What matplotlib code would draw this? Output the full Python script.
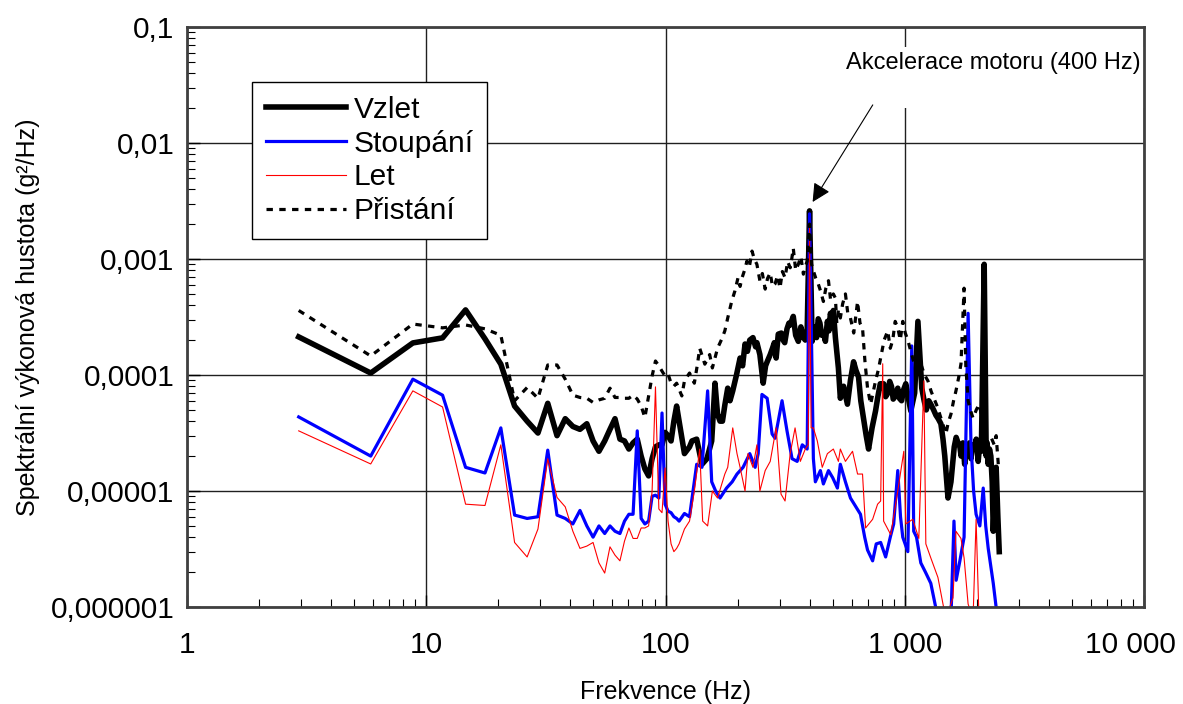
import numpy as np
import matplotlib.pyplot as plt
import matplotlib.transforms as mtransforms
from matplotlib.ticker import FixedLocator, LogLocator, NullFormatter

plt.rcParams['font.family'] = ['Liberation Sans', 'DejaVu Sans']

# nizke frekvence - spolecna osa (krok ~2.93 Hz)
f_low = [2.93, 5.86, 8.79, 11.7, 14.6, 17.6, 20.5, 23.4, 26.4, 29.3, 32.2, 35.2, 38.1,
         41.0, 43.9, 46.9, 49.8, 52.7, 55.7, 58.6, 61.5, 64.5, 67.4, 70.3, 73.2, 76.2,
         79.1, 82.0, 85.0, 87.9, 90.8, 93.8, 96.7, 99.6, 102.5, 105.5, 108.4, 111.3]

vzlet_low = [2.13e-4, 1.04e-4, 1.89e-4, 2.09e-4, 3.64e-4, 2.05e-4, 1.24e-4, 5.4e-5, 4.0e-5,
             3.16e-5, 5.7e-5, 3.0e-5, 4.2e-5, 3.6e-5, 3.4e-5, 3.8e-5, 2.7e-5, 2.2e-5, 2.7e-5,
             3.4e-5, 4.2e-5, 2.8e-5, 2.7e-5, 2.3e-5, 2.6e-5, 2.8e-5, 2.0e-5, 1.55e-5, 1.35e-5,
             1.9e-5, 2.4e-5, 2.5e-5, 2.5e-5, 3.2e-5, 3.0e-5, 2.7e-5, 4.0e-5, 5.4e-5]
stoup_low = [4.35e-5, 2.0e-5, 9.2e-5, 6.7e-5, 1.6e-5, 1.43e-5, 3.5e-5, 6.2e-6, 5.8e-6, 6.0e-6,
             2.25e-5, 6.2e-6, 5.8e-6, 5.2e-6, 6.8e-6, 5.0e-6, 4.0e-6, 5.0e-6, 4.3e-6, 5.0e-6,
             4.5e-6, 4.3e-6, 5.5e-6, 6.3e-6, 6.3e-6, 3.3e-5, 5.8e-6, 5.2e-6, 5.5e-6, 9.0e-6,
             9.2e-6, 8.7e-6, 4.7e-5, 7.7e-6, 6.7e-6, 6.5e-6, 6.0e-6, 5.8e-6]
let_low = [3.3e-5, 1.71e-5, 7.3e-5, 5.3e-5, 7.7e-6, 7.5e-6, 2.5e-5, 3.6e-6, 2.7e-6, 4.7e-6,
           1.9e-5, 8.8e-6, 7.3e-6, 4.5e-6, 3.2e-6, 3.35e-6, 3.6e-6, 2.4e-6, 1.96e-6, 3.3e-6,
           2.8e-6, 2.5e-6, 3.7e-6, 4.8e-6, 3.9e-6, 3.9e-6, 4.8e-6, 4.8e-6, 5.0e-6, 1.0e-5,
           7.9e-5, 7.0e-6, 6.5e-6, 1.58e-5, 5.5e-6, 3.5e-6, 3.0e-6, 3.2e-6]
prist_low = [3.6e-4, 1.46e-4, 2.75e-4, 2.55e-4, 2.7e-4, 2.5e-4, 2.2e-4, 6.0e-5, 7.8e-5, 6.3e-5,
             1.22e-4, 1.22e-4, 9.2e-5, 6.7e-5, 6.4e-5, 6.3e-5, 5.8e-5, 6.1e-5, 6.3e-5, 7.7e-5,
             6.4e-5, 6.4e-5, 6.3e-5, 6.3e-5, 6.7e-5, 6.2e-5, 5.4e-5, 4.3e-5, 6.6e-5, 9.8e-5,
             1.32e-4, 1.2e-4, 1.08e-4, 9.8e-5, 1.02e-4, 8.5e-5, 8.0e-5, 8.5e-5]

# vyssi frekvence - kazda rada zvlast
f_vzlet = [120, 126, 129, 135, 142, 149, 156, 161, 165, 169, 173, 177, 182, 186, 191, 198, 205,
           210, 215, 220, 225, 232, 238, 241, 248, 256, 262, 266, 274, 280, 285, 290, 296, 305,
           310, 315, 322, 328, 332, 342, 350, 359, 368, 377, 384, 391, 400, 410, 418, 423, 428,
           435, 442, 450, 458, 466, 475, 482, 489, 495, 503, 513, 528, 538, 555, 576, 593, 611,
           625, 641, 655, 672, 690, 706, 730, 755, 772, 790, 816, 832, 850, 865, 880, 895, 910,
           935, 950, 970, 990, 1010, 1040, 1060, 1100, 1135, 1178, 1205, 1230, 1260, 1285, 1320,
           1350, 1380, 1416, 1445, 1470, 1516, 1560, 1610, 1640, 1670, 1700, 1720, 1750, 1780,
           1810, 1840, 1865, 1892, 1920, 1950, 1990, 2027, 2060, 2090, 2148, 2190, 2210, 2233,
           2260, 2290, 2320, 2344, 2380, 2410, 2450, 2483]
vzlet_high = [2.1e-5, 2.4e-5, 2.7e-5, 2.8e-5, 1.7e-5, 1.9e-5, 2.7e-5, 8.5e-5, 4.6e-5, 4.0e-5,
              4.0e-5, 5.5e-5, 7.7e-5, 6.0e-5, 7.3e-5, 1.0e-4, 1.4e-4, 1.2e-4, 1.85e-4, 1.6e-4,
              2.0e-4, 2.1e-4, 1.75e-4, 1.9e-4, 1.5e-4, 8.5e-5, 1.2e-4, 1.3e-4, 1.5e-4, 1.7e-4,
              1.9e-4, 1.4e-4, 2.25e-4, 2.3e-4, 2.0e-4, 1.9e-4, 2.5e-4, 2.8e-4, 2.7e-4, 3.2e-4,
              2.2e-4, 1.95e-4, 2.6e-4, 2.1e-4, 2.0e-4, 2.4e-4, 2.6e-3, 1.95e-4, 2.5e-4, 2.6e-4,
              2.1e-4, 3.05e-4, 2.8e-4, 2.2e-4, 2.3e-4, 1.95e-4, 2.9e-4, 2.4e-4, 3.4e-4, 3.0e-4,
              3.6e-4, 2.1e-4, 1.15e-4, 6.3e-5, 8.0e-5, 5.6e-5, 9.0e-5, 1.3e-4, 1.1e-4, 9.6e-5,
              6.0e-5, 4.25e-5, 3.0e-5, 2.3e-5, 3.5e-5, 4.9e-5, 6.5e-5, 8.4e-5, 8.4e-5, 6.5e-5,
              7.0e-5, 8.8e-5, 8.0e-5, 6.2e-5, 6.5e-5, 7.7e-5, 6.3e-5, 6.0e-5, 7.5e-5, 8.4e-5,
              6.0e-5, 4.9e-5, 7.0e-5, 2.9e-4, 7.7e-5, 6.0e-5, 5.0e-5, 6.0e-5, 5.6e-5, 5.0e-5,
              4.5e-5, 4.2e-5, 3.8e-5, 2.8e-5, 2.0e-5, 8.7e-6, 1.2e-5, 2.4e-5, 2.9e-5, 2.6e-5,
              2.4e-5, 2.0e-5, 2.6e-5, 1.7e-5, 2.5e-5, 2.2e-5, 2.6e-5, 1.9e-5, 2.5e-5, 2.3e-5,
              2.8e-5, 1.8e-5, 2.6e-5, 2.2e-5, 9.0e-4, 2.0e-5, 2.6e-5, 1.7e-5, 2.3e-5, 2.0e-5,
              1.2e-5, 4.5e-6, 1.0e-5, 1.6e-5, 6.0e-6, 3.0e-6]

f_stoup = [114, 120, 126, 135, 142, 150, 156, 162, 169, 180, 190, 199, 211, 225, 237, 244, 253,
           266, 279, 287, 307, 322, 338, 355, 373, 391, 400, 415, 423, 444, 457, 480, 500, 523,
           538, 565, 593, 620, 653, 680, 699, 734, 760, 793, 832, 870, 899, 935, 960, 981, 1030,
           1070, 1090, 1120, 1167, 1220, 1285, 1349, 1450, 1560, 1606, 1640, 1700, 1770, 1840,
           1892, 1940, 1987, 2060, 2128, 2180, 2233, 2344, 2412, 2460]
stoup_high = [5.5e-6, 6.4e-6, 6.0e-6, 1.7e-5, 1.6e-5, 7.3e-5, 1.2e-5, 1.0e-5, 8.7e-6, 1.06e-5,
              1.2e-5, 1.4e-5, 1.6e-5, 2.1e-5, 1.6e-5, 2.1e-5, 6.8e-5, 6.3e-5, 3.1e-5, 2.85e-5,
              6.0e-5, 3.3e-5, 1.9e-5, 1.8e-5, 2.5e-5, 2.3e-5, 2.45e-3, 1.9e-5, 1.2e-5, 1.5e-5,
              1.15e-5, 1.5e-5, 1.3e-5, 1.06e-5, 1.7e-5, 1.2e-5, 8.7e-6, 7.5e-6, 6.3e-6, 4.0e-6,
              3.1e-6, 2.5e-6, 3.5e-6, 3.6e-6, 2.7e-6, 4.0e-6, 5.2e-6, 1.5e-5, 6.0e-6, 4.0e-6,
              3.0e-6, 1.78e-4, 4.5e-6, 4.0e-6, 2.4e-6, 2.0e-6, 1.6e-6, 9.8e-7, 7.0e-7, 8.0e-7,
              5.5e-6, 1.7e-6, 2.5e-6, 4.0e-6, 3.4e-4, 2.5e-5, 1.0e-5, 6.3e-6, 5.0e-6, 1.06e-5,
              5.0e-6, 3.2e-6, 1.6e-6, 9.8e-7, 6.0e-7]

f_let = [114, 120, 126, 132, 139, 143, 150, 157, 165, 177, 182, 191, 199, 205, 215, 221, 232,
         241, 248, 261, 274, 290, 304, 316, 332, 348, 366, 384, 395, 400, 406, 415, 431, 452,
         475, 503, 528, 538, 565, 605, 635, 666, 686, 734, 770, 793, 809, 816, 874, 935, 991,
         1010, 1080, 1145, 1202, 1225, 1285, 1376, 1445, 1486, 1591, 1637, 1718, 1770, 1840,
         1930, 1987, 2047]
let_high = [3.5e-6, 4.7e-6, 5.5e-6, 1.0e-5, 2.3e-5, 5.5e-6, 5.0e-6, 1.0e-5, 8.7e-6, 1.4e-5,
            1.6e-5, 3.5e-5, 2.1e-5, 1.6e-5, 1.0e-5, 2.1e-5, 1.6e-5, 2.5e-5, 1.0e-5, 1.5e-5,
            1.8e-5, 3.5e-5, 9.4e-6, 8.2e-6, 2.1e-5, 3.5e-5, 1.8e-5, 2.3e-5, 2.5e-5, 1.9e-3,
            3.5e-5, 3.5e-5, 2.7e-5, 1.6e-5, 2.1e-5, 2.3e-5, 1.8e-5, 2.3e-5, 1.8e-5, 2.2e-5,
            1.4e-5, 1.4e-5, 4.8e-6, 5.7e-6, 7.7e-6, 8.2e-6, 1.25e-4, 5.5e-6, 4.2e-6, 1.0e-5,
            2.2e-5, 5.2e-6, 5.7e-6, 3.9e-6, 8.9e-5, 3.5e-6, 2.65e-6, 1.8e-6, 1.06e-6, 8.0e-7,
            1.2e-6, 4.5e-6, 3.9e-6, 2.65e-6, 1.06e-6, 8.0e-7, 5.7e-6, 7.0e-7]

f_prist = [117, 120, 126, 132, 136, 139, 146, 153, 157, 165, 172, 177, 182, 189, 195, 201, 205,
           209, 214, 219, 224, 230, 235, 241, 248, 254, 261, 267, 274, 280, 287, 294, 301, 308,
           316, 324, 332, 337, 342, 350, 359, 368, 377, 384, 391, 400, 408, 415, 425, 435, 446,
           457, 468, 480, 490, 503, 513, 520, 528, 538, 550, 565, 578, 593, 612, 635, 650, 666,
           682, 699, 720, 737, 755, 775, 793, 820, 849, 870, 891, 912, 935, 958, 981, 1005, 1030,
           1060, 1090, 1130, 1167, 1210, 1250, 1290, 1324, 1370, 1416, 1450, 1486, 1520, 1560,
           1600, 1637, 1680, 1718, 1770, 1800, 1840, 1880, 1930, 1990, 2047, 2120, 2190, 2280,
           2366, 2410, 2460]
prist_high = [6.6e-5, 8.9e-5, 1.04e-4, 8.5e-5, 1.24e-4, 1.7e-4, 1.24e-4, 1.5e-4, 1.15e-4, 1.7e-4,
              2.05e-4, 2.4e-4, 3.1e-4, 4.3e-4, 5.3e-4, 6.9e-4, 5.8e-4, 6.9e-4, 8.0e-4, 9.6e-4,
              8.5e-4, 1.17e-3, 1.0e-3, 9.0e-4, 6.5e-4, 7.5e-4, 5.5e-4, 6.8e-4, 7.6e-4, 5.8e-4,
              6.1e-4, 7.2e-4, 5.6e-4, 7.8e-4, 6.9e-4, 9.5e-4, 8.4e-4, 1.0e-3, 1.24e-3, 8.0e-4,
              9.0e-4, 1.05e-3, 7.4e-4, 8.6e-4, 9.6e-4, 2.0e-3, 9.0e-4, 7.9e-4, 6.8e-4, 6.1e-4,
              5.2e-4, 4.3e-4, 5.6e-4, 6.5e-4, 4.4e-4, 5.0e-4, 4.6e-4, 2.8e-4, 3.6e-4, 3.1e-4,
              4.1e-4, 5.0e-4, 3.4e-4, 3.1e-4, 2.3e-4, 4.3e-4, 2.8e-4, 2.55e-4, 1.3e-4, 7.7e-5,
              5.6e-5, 7.0e-5, 8.9e-5, 1.1e-4, 1.4e-4, 2.0e-4, 2.4e-4, 1.7e-4, 2.0e-4, 2.9e-4,
              2.55e-4, 2.0e-4, 2.9e-4, 2.3e-4, 2.0e-4, 1.6e-4, 1.3e-4, 1.5e-4, 1.25e-4, 1.0e-4,
              8.9e-5, 7.2e-5, 6.3e-5, 5.3e-5, 4.25e-5, 3.6e-5, 3.1e-5, 3.9e-5, 4.6e-5, 6.0e-5,
              7.3e-5, 9.5e-5, 1.25e-4, 5.6e-4, 1.2e-4, 6.0e-5, 5.0e-5, 4.25e-5, 5.0e-5, 5.6e-5,
              4.0e-5, 2.9e-5, 3.0e-5, 2.5e-5, 3.0e-5, 1.7e-5]

x_ticks = [1, 10, 100, 1000, 10000]
x_labels = ['1', '10', '100', '1 000', '10 000']
y_ticks = [1e-6, 1e-5, 1e-4, 1e-3, 1e-2, 1e-1]
y_labels = ['0,000001', '0,00001', '0,0001', '0,001', '0,01', '0,1']

fig = plt.figure(figsize=(11.83, 7.04), dpi=100)
ax = fig.add_axes([187 / 1183, 97 / 704, 957 / 1183, 580 / 704])

ax.plot(f_low + f_vzlet, vzlet_low + vzlet_high, color='black', lw=4.0,
        solid_joinstyle='round', label='Vzlet')
ax.plot(f_low + f_stoup, stoup_low + stoup_high, color='#0000ff', lw=2.3,
        solid_joinstyle='round', label='Stoupání')
ax.plot(f_low + f_let, let_low + let_high, color='#ff0000', lw=0.8, label='Let')
ax.plot(f_low + f_prist, prist_low + prist_high, color='black', lw=2.3,
        linestyle=(0, (2, 2)), label='Přistání')

ax.set_xscale('log')
ax.set_yscale('log')
ax.set_xlim(1, 10000)
ax.set_ylim(1e-6, 0.1)

ax.xaxis.set_major_locator(FixedLocator(x_ticks))
ax.set_xticklabels(x_labels)
ax.yaxis.set_major_locator(FixedLocator(y_ticks))
ax.set_yticklabels(y_labels)
ax.xaxis.set_minor_locator(LogLocator(base=10, subs=np.arange(2, 10)))
ax.yaxis.set_minor_locator(LogLocator(base=10, subs=np.arange(2, 10)))
ax.xaxis.set_minor_formatter(NullFormatter())
ax.yaxis.set_minor_formatter(NullFormatter())

ax.tick_params(which='both', direction='in', top=False, right=False, color='black')
ax.tick_params(which='major', length=9, width=1, labelsize=21.5)
ax.tick_params(which='minor', length=6, width=0.8)
ax.tick_params(axis='x', which='major', pad=17)
ax.tick_params(axis='y', which='major', pad=9)

# posledni popisek osy x posunout doleva, aby se vesel
last = ax.get_xticklabels()[-1]
last.set_transform(last.get_transform() + mtransforms.ScaledTranslation(-14 / 100, 0, fig.dpi_scale_trans))

ax.grid(True, which='major', color='#202020', lw=1.0)
ax.set_axisbelow(True)
for s in ax.spines.values():
    s.set_color('#404040')
    s.set_linewidth(2)

ax.set_xlabel('Frekvence (Hz)', fontsize=18)
ax.xaxis.set_label_coords(0.5, -0.125)
fig.text(28 / 1183, 1 - 317 / 704, 'Spektrální výkonová hustota (g²/Hz)', fontsize=18,
         rotation=90, ha='center', va='center')

leg = ax.legend(loc='upper left', bbox_to_anchor=(0.068, 0.905), borderaxespad=0,
                fontsize=21.5, handlelength=2.7, handletextpad=0.25, labelspacing=0.2,
                borderpad=0.45, fancybox=False, framealpha=1, edgecolor='black')
leg.get_frame().set_linewidth(1.0)

# popisek pod ramem os (spines maji zorder 2.5)
ax.text(2355, 0.061, 'Akcelerace motoru (400 Hz)\n', fontsize=17, ha='center', va='top',
        linespacing=1.45,
        bbox=dict(boxstyle='square,pad=0.2', facecolor='white', edgecolor='none'), zorder=2.4)
ax.annotate('', xy=(412, 3.1e-3), xytext=(735, 0.0213),
            arrowprops=dict(arrowstyle='-|>', mutation_scale=28, lw=0.8, color='black',
                            shrinkA=0, shrinkB=0), zorder=6)

fig.savefig('out.png', dpi=100)
